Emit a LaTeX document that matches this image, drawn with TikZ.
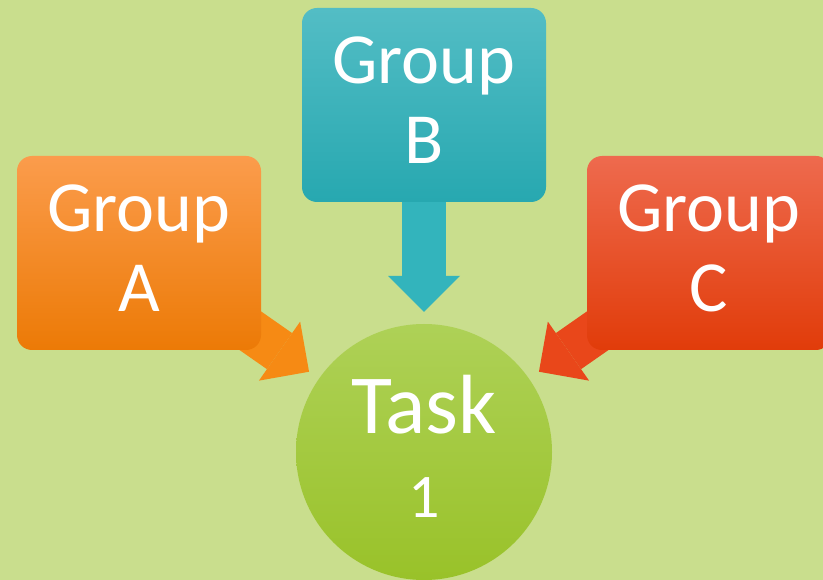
\documentclass[tikz,border=0pt]{standalone}
\usepackage{fontspec}
\setmainfont{Carlito}
\usetikzlibrary{arrows.meta}

\definecolor{bgGreen}{HTML}{C9DE8D}
\definecolor{orTop}{HTML}{FB9C4C}
\definecolor{orMid}{HTML}{FB8C1C}
\definecolor{orBot}{HTML}{EC7A06}
\definecolor{orArr}{HTML}{F68A14}
\definecolor{tlTop}{HTML}{53BDC5}
\definecolor{tlMid}{HTML}{33B4BC}
\definecolor{tlBot}{HTML}{27A8B0}
\definecolor{rdTop}{HTML}{EE6A4E}
\definecolor{rdMid}{HTML}{F24E17}
\definecolor{rdBot}{HTML}{E13C0A}
\definecolor{rdArr}{HTML}{E9471A}
\definecolor{grTop}{HTML}{AED157}
\definecolor{grBot}{HTML}{99C229}

\begin{document}
\begin{tikzpicture}[x=1pt,y=-1pt,
  group/.style={rounded corners=15pt,minimum width=244pt,minimum height=194pt,
    inner sep=0pt,text=white,align=center,text depth=10pt,
    font=\fontsize{72}{80}\selectfont},
  task/.style={circle,minimum size=256pt,inner sep=0pt,text=white,align=center,
    top color=grTop,bottom color=grBot,text depth=12pt,
    font=\fontsize{84}{84}\selectfont},
  fat/.style={line width=44pt,shorten >=12pt,
    -{Triangle[width=72pt,length=36pt,line width=0pt]}}]
  \clip (0,0) rectangle (823,580);
  \fill[bgGreen] (0,0) rectangle (823,580);
  % arrows first, boxes on top
  \coordinate (ac) at (139,253);
  \coordinate (bc) at (424,105);
  \coordinate (cc) at (709,253);
  \node[task] (t) at (424,452) {Task\\{\fontsize{62}{62}\selectfont 1}};
  \draw[fat,orArr] (ac) -- (t);
  \draw[fat,tlMid] (bc) -- (t);
  \draw[fat,rdArr] (cc) -- (t);
  \node[group,top color=orTop,middle color=orMid,bottom color=orBot] (a) at (ac) {Group\\A};
  \node[group,top color=tlTop,middle color=tlMid,bottom color=tlBot] (b) at (bc) {Group\\B};
  \node[group,top color=rdTop,middle color=rdMid,bottom color=rdBot] (c) at (cc) {Group\\C};
\end{tikzpicture}
\end{document}
